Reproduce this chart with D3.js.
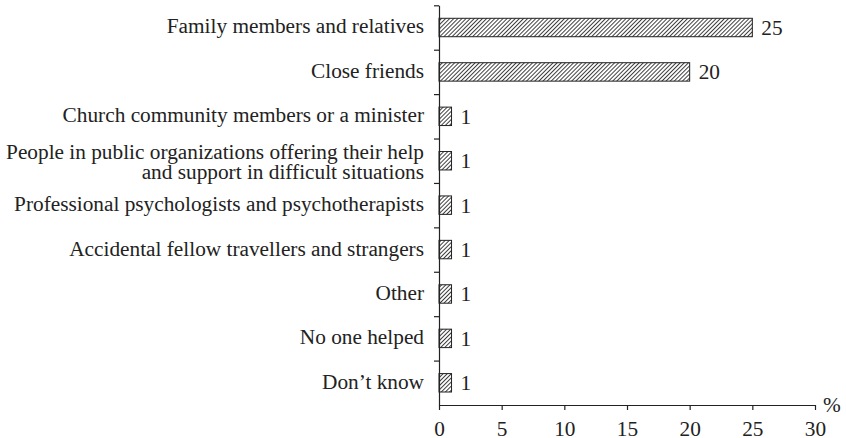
<!DOCTYPE html>
<html>
<head>
<meta charset="utf-8">
<script src="https://cdn.jsdelivr.net/npm/d3@7"></script>
<style>
  html, body { margin: 0; padding: 0; background: #fff; }
</style>
</head>
<body>
<svg id="chart" width="846" height="438"></svg>
<script>
// Who helped respondents in a difficult situation (% of respondents)
const categories = [
  ["Family members and relatives"],
  ["Close friends"],
  ["Church community members or a minister"],
  ["People in public organizations offering their help", "and support in difficult situations"],
  ["Professional psychologists and psychotherapists"],
  ["Accidental fellow travellers and strangers"],
  ["Other"],
  ["No one helped"],
  ["Don\u2019t know"]
];
const values = [25, 20, 1, 1, 1, 1, 1, 1, 1];
const xTicks = [0, 5, 10, 15, 20, 25, 30];
const unitLabel = "%";

const svg = d3.select("#chart");
const fontFamily = "Liberation Serif";
const fontSize = 21.3;
const ink = "#222";

const plotLeft = 439, plotRight = 815, plotTop = 5.3, plotBottom = 405;

const keys = categories.map((c, i) => i);
const x = d3.scaleLinear().domain([0, 30]).range([plotLeft, plotRight]);
const y = d3.scaleBand().domain(keys).range([plotTop, plotBottom])
  .paddingInner(0.585).paddingOuter(0.2925);

// diagonal hatch fill
const hatchStep = 2.9;
const defs = svg.append("defs");
const pat = defs.append("pattern")
  .attr("id", "hatch")
  .attr("patternUnits", "userSpaceOnUse")
  .attr("width", hatchStep).attr("height", hatchStep)
  .attr("patternTransform", "rotate(45)");
pat.append("rect").attr("width", hatchStep).attr("height", hatchStep).attr("fill", "#fff");
pat.append("line")
  .attr("x1", 0.5).attr("y1", 0).attr("x2", 0.5).attr("y2", hatchStep)
  .attr("stroke", "#2a2a2a").attr("stroke-width", 0.9);

// bars
svg.append("g").selectAll("rect")
  .data(values)
  .join("rect")
  .attr("x", x(0))
  .attr("y", (d, i) => y(i))
  .attr("width", d => x(d) - x(0))
  .attr("height", y.bandwidth())
  .attr("fill", "url(#hatch)")
  .attr("stroke", ink)
  .attr("stroke-width", 1);

// value labels
svg.append("g").selectAll("text")
  .data(values)
  .join("text")
  .attr("x", d => x(d) + 9)
  .attr("y", (d, i) => y(i) + y.bandwidth() / 2)
  .attr("dy", "0.35em")
  .attr("font-family", fontFamily)
  .attr("font-size", fontSize)
  .attr("fill", ink)
  .text(d => d);

// category labels (right-aligned, two lines where needed)
const labels = svg.append("g").selectAll("text")
  .data(categories)
  .join("text")
  .attr("x", plotLeft - 15)
  .attr("y", (d, i) => y(i) + y.bandwidth() / 2)
  .attr("text-anchor", "end")
  .attr("font-family", fontFamily)
  .attr("font-size", fontSize)
  .attr("fill", ink);
labels.each(function(lines) {
  const t = d3.select(this);
  const n = lines.length;
  lines.forEach((s, j) => {
    t.append("tspan")
      .attr("x", plotLeft - 15)
      .attr("dy", j === 0 ? (n > 1 ? "-0.1em" : "0.28em") : "0.94em")
      .text(s);
  });
});

// y axis with ticks at category boundaries
const yb = d3.scaleLinear().domain([0, categories.length]).range([plotTop, plotBottom]);
const yAxis = svg.append("g")
  .attr("transform", `translate(${plotLeft},0)`)
  .call(d3.axisLeft(yb).tickValues(d3.range(0, categories.length)).tickSize(5).tickSizeOuter(0).tickFormat(""));
yAxis.select(".domain").attr("stroke", ink).attr("stroke-width", 1.2);
yAxis.selectAll(".tick line").attr("stroke", ink).attr("stroke-width", 1.2);

// x axis
const xAxis = svg.append("g")
  .attr("transform", `translate(0,${plotBottom})`)
  .call(d3.axisBottom(x).tickValues(xTicks).tickSize(5).tickSizeOuter(0).tickPadding(11));
xAxis.attr("font-family", fontFamily).attr("font-size", fontSize);
xAxis.select(".domain").attr("stroke", ink).attr("stroke-width", 1.2);
xAxis.selectAll(".tick line").attr("stroke", ink).attr("stroke-width", 1.2);
xAxis.selectAll(".tick text").attr("fill", ink);

svg.append("text")
  .attr("x", plotRight + 8)
  .attr("y", plotBottom + 7)
  .attr("font-family", fontFamily)
  .attr("font-size", fontSize)
  .attr("fill", ink)
  .text(unitLabel);
</script>
</body>
</html>
